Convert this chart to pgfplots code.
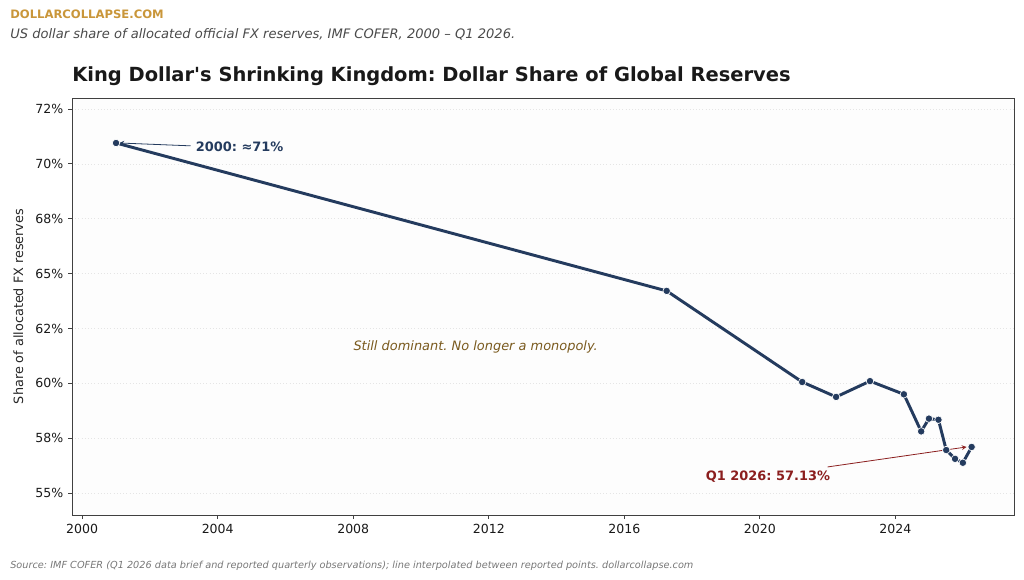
\documentclass[border=0pt]{standalone}
\usepackage{pgfplots}
\pgfplotsset{compat=1.18}
\usepackage{fontspec}
\setmainfont{DejaVu Sans}
\frenchspacing
\definecolor{navy}{HTML}{243B5E}
\definecolor{gold}{HTML}{C9963A}
\definecolor{darkred}{HTML}{8B1E1E}
\definecolor{brownish}{HTML}{7A5A1E}
\definecolor{subgray}{HTML}{4A4A4A}
\definecolor{footgray}{HTML}{777777}
\begin{document}
\begin{tikzpicture}
\path[use as bounding box] (0,0) rectangle (768pt,-435pt);
\node[anchor=base west, inner sep=0, text=gold, font=\bfseries\fontsize{8.7}{10}\selectfont] at (7.5pt,-14.25pt) {DOLLARCOLLAPSE.COM};
\node[anchor=base west, inner sep=0, text=subgray, font=\itshape\fontsize{9.8}{11}\selectfont] at (7.5pt,-29.25pt) {US dollar share of allocated official FX reserves, IMF COFER, 2000 – Q1 2026.};
\node[anchor=base west, inner sep=0, text=black!90, font=\bfseries\fontsize{14.6}{17}\selectfont] at (54pt,-61.5pt) {King Dollar\textquotesingle s Shrinking Kingdom: Dollar Share of Global Reserves};
\node[anchor=base west, inner sep=0, text=footgray, font=\itshape\fontsize{7.3}{9}\selectfont] at (7.5pt,-426pt) {Source: IMF COFER (Q1 2026 data brief and reported quarterly observations); line interpolated between reported points. dollarcollapse.com};
\begin{axis}[
  at={(54pt,-386.25pt)}, anchor=south west,
  scale only axis, width=706.5pt, height=312.75pt,
  xmin=1999.7, xmax=2027.5, ymin=54.0, ymax=73.0,
  xtick={2000,2004,2008,2012,2016,2020,2024},
  xticklabels={2000,2004,2008,2012,2016,2020,2024},
  ytick={55,57.5,60,62.5,65,67.5,70,72.5},
  yticklabels={55\%,58\%,60\%,62\%,65\%,68\%,70\%,72\%},
  ymajorgrids, grid style={dotted, black!10},
  axis background/.style={fill=black!0.7},
  axis line style={draw=black!75, line width=0.6pt},
  tick style={black!75, line width=0.6pt},
  tick align=outside, tick pos=left, major tick length=3pt,
  ticklabel style={font=\fontsize{9.4}{11}\selectfont, text=black!90},
  ylabel={Share of allocated FX reserves},
  ylabel style={at={(axis description cs:-0.057,0.5)}, anchor=center, font=\fontsize{9.6}{11}\selectfont, text=black!85},
  clip=false,
]
\addplot[navy, line width=2.2pt, mark=*, mark size=2.8pt, mark options={fill=navy, draw=white, line width=0.5pt}] coordinates {
(2001.0,70.95) (2017.25,64.21) (2021.25,60.06) (2022.25,59.38) (2023.25,60.10) (2024.25,59.50)
(2024.76,57.81) (2024.99,58.39) (2025.27,58.34) (2025.50,56.96) (2025.76,56.56) (2025.99,56.38) (2026.25,57.10)
};
\draw[-stealth, navy, line width=0.6pt] (axis cs:2003.2,70.82) -- (axis cs:2001.1,70.95);
\node[anchor=west, inner sep=0, text=navy, font=\bfseries\fontsize{9.7}{11}\selectfont] at (axis cs:2003.35,70.78) {2000: ≈71\%};
\draw[-stealth, darkred, line width=0.6pt] (axis cs:2022.0,56.19) -- (axis cs:2026.1,57.10);
\node[anchor=center, inner sep=0, text=darkred, font=\bfseries\fontsize{9.7}{11}\selectfont] at (axis cs:2020.24,55.77) {Q1 2026: 57.13\%};
\node[anchor=west, inner sep=0, text=brownish, font=\itshape\fontsize{9.7}{11}\selectfont] at (axis cs:2008.0,61.65) {Still dominant. No longer a monopoly.};
\end{axis}
\end{tikzpicture}
\end{document}
